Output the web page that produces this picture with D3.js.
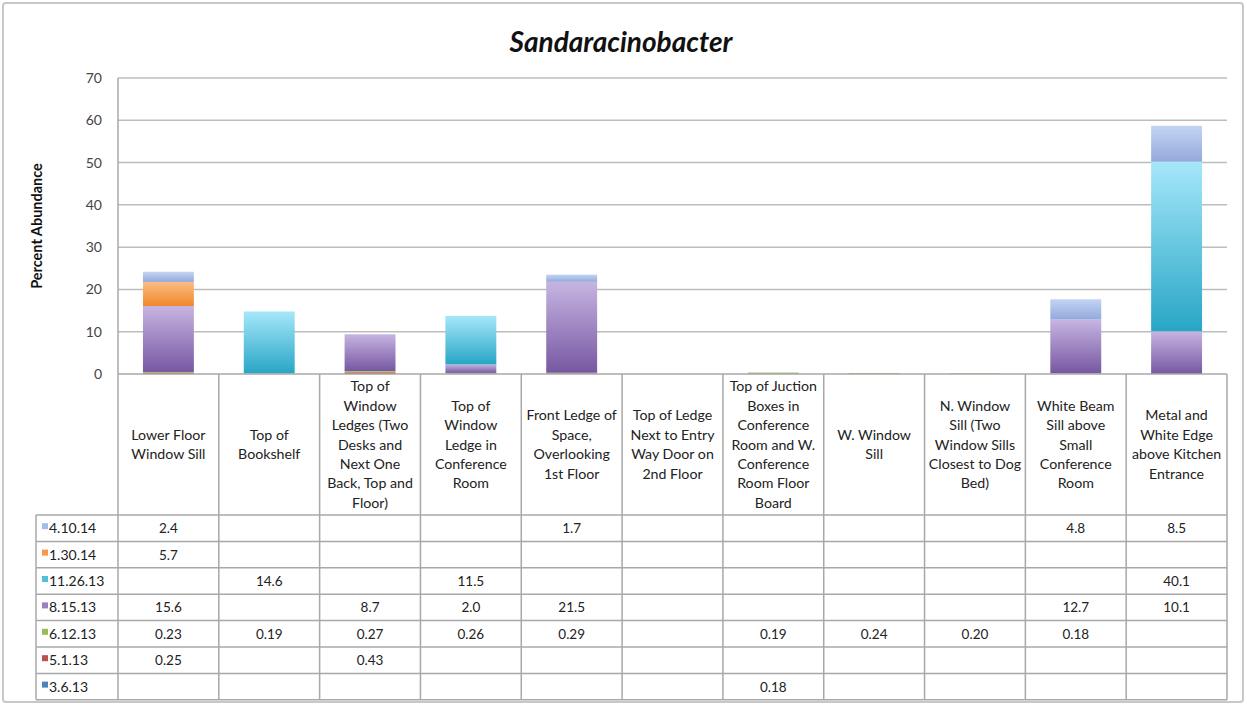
<!DOCTYPE html>
<html><head><meta charset="utf-8">
<script src="https://cdn.jsdelivr.net/npm/d3@7"></script>
<style>body{margin:0;background:#fff;}svg{display:block;font-family:Lato,"Open Sans",sans-serif;}</style>
</head><body><svg id="c" width="1247" height="706"></svg>
<script>
const title = "Sandaracinobacter";
const yTitle = "Percent Abundance";
const categories = [
  ["Lower Floor","Window Sill"],
  ["Top of","Bookshelf"],
  ["Top of","Window","Ledges (Two","Desks and","Next One","Back, Top and","Floor)"],
  ["Top of","Window","Ledge in","Conference","Room"],
  ["Front Ledge of","Space,","Overlooking","1st Floor"],
  ["Top of Ledge","Next to Entry","Way Door on","2nd Floor"],
  ["Top of Juction","Boxes in","Conference","Room and W.","Conference","Room Floor","Board"],
  ["W. Window","Sill"],
  ["N. Window","Sill (Two","Window Sills","Closest to Dog","Bed)"],
  ["White Beam","Sill above","Small","Conference","Room"],
  ["Metal and","White Edge","above Kitchen","Entrance"]
];
// series listed top row of table first
const seriesNames = ["4.10.14","1.30.14","11.26.13","8.15.13","6.12.13","5.1.13","3.6.13"];
const s_4_10_14  = [2.4, null, null, null, 1.7, null, null, null, null, 4.8, 8.5];
const s_1_30_14  = [5.7, null, null, null, null, null, null, null, null, null, null];
const s_11_26_13 = [null, 14.6, null, 11.5, null, null, null, null, null, null, 40.1];
const s_8_15_13  = [15.6, null, 8.7, 2.0, 21.5, null, null, null, null, 12.7, 10.1];
const s_6_12_13  = [0.23, 0.19, 0.27, 0.26, 0.29, null, 0.19, 0.24, 0.20, 0.18, null];
const s_5_1_13   = [0.25, null, 0.43, null, null, null, null, null, null, null, null];
const s_3_6_13   = [null, null, null, null, null, null, 0.18, null, null, null, null];
const seriesValues = [s_4_10_14, s_1_30_14, s_11_26_13, s_8_15_13, s_6_12_13, s_5_1_13, s_3_6_13];
const yTicks = [0,10,20,30,40,50,60,70];

// styling: [top, bottom, swatch]
const colors = {
  "4.10.14":["#c3d4f3","#93a9dc","#a5bbe8"],
  "1.30.14":["#fbbd86","#f0882a","#f59a4a"],
  "11.26.13":["#a6e7f9","#28a6c6","#4fc1dc"],
  "8.15.13":["#c6b5e2","#7757a2","#9a7fc2"],
  "6.12.13":["#b8d47a","#8cac48","#9bbb59"],
  "5.1.13":["#dc6d6a","#b0403d","#c0504d"],
  "3.6.13":["#7aa2d6","#3f6fae","#4f81bd"]
};

const svg = d3.select("#c");
const L = 118, R = 1227, T = 78, B = 374;
const headerBottom = 515, rowH = 26.4, legendLeft = 36;

// outer border
svg.append("rect").attr("x",3).attr("y",3).attr("width",1240).attr("height",699)
  .attr("rx",3).attr("fill","#fff").attr("stroke","#c8c8c8").attr("stroke-width",2);

svg.append("text").attr("x",621).attr("y",52).attr("text-anchor","middle")
  .attr("font-size",28).attr("font-weight","bold").attr("font-style","italic").attr("fill","#111")
  .text(title);

const x = d3.scaleBand().domain(d3.range(categories.length)).range([L,R]).paddingInner(0).paddingOuter(0);
const y = d3.scaleLinear().domain([0,70]).range([B,T]);

// defs gradients
const defs = svg.append("defs");
seriesNames.forEach((n,i)=>{
  const g = defs.append("linearGradient").attr("id","g"+i).attr("x1",0).attr("y1",0).attr("x2",0).attr("y2",1);
  g.append("stop").attr("offset","0%").attr("stop-color",colors[n][0]);
  g.append("stop").attr("offset","100%").attr("stop-color",colors[n][1]);
});

// gridlines
const yAxis = d3.axisLeft(y).tickValues(yTicks).tickSize(0).tickPadding(16);
const ga = svg.append("g").attr("transform",`translate(${L},0)`).call(yAxis);
ga.select(".domain").remove();
ga.selectAll("text").attr("font-size",14).attr("fill","#444").attr("font-family","Lato,'Open Sans',sans-serif");
svg.append("g").selectAll("line").data(yTicks.filter(t=>t>0)).join("line")
  .attr("x1",L).attr("x2",R).attr("y1",d=>y(d)).attr("y2",d=>y(d))
  .attr("stroke","#bdbdbd").attr("stroke-width",1.5);

svg.append("text").attr("transform",`translate(42,${(T+B)/2}) rotate(-90)`)
  .attr("text-anchor","middle").attr("font-size",14.5).attr("font-weight","bold").attr("fill","#111")
  .text(yTitle);

// stacked data
const keysBottomUp = seriesNames.slice().reverse();
const rows = categories.map((c,ci)=>{
  const o = {i:ci};
  seriesNames.forEach((n,si)=>{ o[n] = seriesValues[si][ci] || 0; });
  return o;
});
const stack = d3.stack().keys(keysBottomUp)(rows);
const bw = x.bandwidth()*0.505;
stack.forEach(layer=>{
  const si = seriesNames.indexOf(layer.key);
  svg.append("g").selectAll("rect").data(layer.filter(d=>d[1]-d[0]>0)).join("rect")
    .attr("x",d=>x(d.data.i)+(x.bandwidth()-bw)/2)
    .attr("width",bw)
    .attr("y",d=>y(d[1]))
    .attr("height",d=>Math.max(0.8,y(d[0])-y(d[1])))
    .attr("fill",`url(#g${si})`);
});

// table
const tableBottom = headerBottom + rowH*seriesNames.length;
const tg = svg.append("g").attr("stroke","#a8a8a8").attr("stroke-width",1.5);
d3.range(categories.length+1).forEach(i=>{
  const xx = i<categories.length ? x(i) : R;
  tg.append("line").attr("x1",xx).attr("x2",xx).attr("y1",i===0?T:B).attr("y2",tableBottom);
});
tg.append("line").attr("x1",legendLeft).attr("x2",legendLeft).attr("y1",headerBottom).attr("y2",tableBottom);
d3.range(seriesNames.length+1).forEach(r=>{
  const yy = headerBottom + r*rowH;
  tg.append("line").attr("x1",legendLeft).attr("x2",R).attr("y1",yy).attr("y2",yy);
});
svg.append("line").attr("x1",L).attr("x2",R).attr("y1",B).attr("y2",B).attr("stroke","#a8a8a8").attr("stroke-width",1.5);

// category labels
const lineH = 19.4;
categories.forEach((lines,ci)=>{
  const cx = x(ci)+x.bandwidth()/2;
  const cy = (B+headerBottom)/2;
  const t = svg.append("text").attr("text-anchor","middle").attr("font-size",14.2).attr("fill","#222");
  lines.forEach((ln,li)=>{
    t.append("tspan").attr("x",cx).attr("y",cy + (li-(lines.length-1)/2)*lineH + 5).text(ln);
  });
});

// legend + values
seriesNames.forEach((n,si)=>{
  const ry = headerBottom + si*rowH + rowH/2;
  svg.append("rect").attr("x",42).attr("y",ry-5).attr("width",6).attr("height",6).attr("fill",colors[n][2]);
  svg.append("text").attr("x",49).attr("y",ry+5).attr("font-size",14).attr("fill","#222").text(n);
  seriesValues[si].forEach((v,ci)=>{
    if(v==null) return;
    const s = v<1 ? v.toFixed(2) : v.toFixed(1);
    svg.append("text").attr("x",x(ci)+x.bandwidth()/2).attr("y",ry+5)
      .attr("text-anchor","middle").attr("font-size",13.5).attr("fill","#222").text(s);
  });
});
</script></body></html>
